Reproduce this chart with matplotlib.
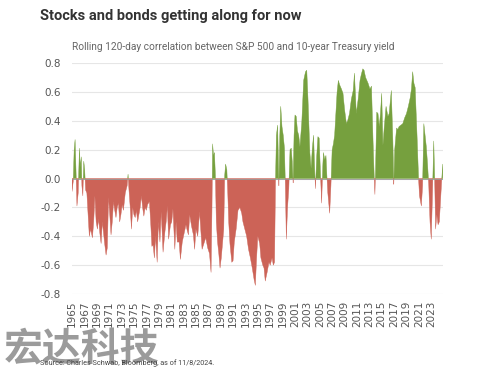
import numpy as np
import matplotlib.pyplot as plt

# rolling 120-day correlation (decimal year, value)
dates = [
    1965.0, 1965.2, 1965.35, 1965.5, 1965.65, 1965.8, 1966.0, 1966.2, 1966.35, 1966.5,
    1966.6, 1966.75, 1966.9, 1967.05, 1967.2, 1967.4, 1967.6, 1967.8, 1968.0, 1968.3,
    1968.5, 1968.7, 1968.9, 1969.1, 1969.3, 1969.5, 1969.7, 1969.9, 1970.1, 1970.3,
    1970.5, 1970.7, 1970.9, 1971.1, 1971.3, 1971.5, 1971.7, 1971.9, 1972.1, 1972.3,
    1972.5, 1972.7, 1972.9, 1973.1, 1973.3, 1973.6, 1973.9, 1974.05, 1974.2, 1974.4,
    1974.6, 1974.8, 1975.0, 1975.2, 1975.4, 1975.6, 1975.8, 1976.0, 1976.2, 1976.4,
    1976.6, 1976.8, 1977.0, 1977.2, 1977.5, 1977.7, 1977.9, 1978.1, 1978.3, 1978.5,
    1978.75, 1978.95, 1979.2, 1979.4, 1979.7, 1980.0, 1980.2, 1980.4, 1980.6, 1980.9,
    1981.1, 1981.3, 1981.6, 1981.8, 1982.0, 1982.3, 1982.5, 1982.8, 1983.1, 1983.4,
    1983.6, 1983.8, 1984.0, 1984.3, 1984.6, 1984.8, 1985.0, 1985.3, 1985.6, 1985.8,
    1986.0, 1986.3, 1986.6, 1986.9, 1987.2, 1987.45, 1987.6, 1987.7, 1987.85, 1988.0,
    1988.15, 1988.3, 1988.5, 1988.7, 1988.9, 1989.1, 1989.3, 1989.5, 1989.65, 1989.8,
    1990.0, 1990.15, 1990.3, 1990.5, 1990.8, 1991.0, 1991.2, 1991.5, 1991.8, 1992.1,
    1992.4, 1992.6, 1992.9, 1993.2, 1993.5, 1993.8, 1994.1, 1994.4, 1994.6, 1994.8,
    1995.0, 1995.3, 1995.5, 1995.8, 1996.0, 1996.2, 1996.5, 1996.8, 1997.0, 1997.3,
    1997.5, 1997.7, 1997.85, 1998.0, 1998.2, 1998.4, 1998.55, 1998.7, 1998.9, 1999.1,
    1999.3, 1999.45, 1999.6, 1999.8, 2000.0, 2000.2, 2000.4, 2000.55, 2000.7, 2000.85,
    2001.0, 2001.2, 2001.4, 2001.6, 2001.8, 2002.1, 2002.4, 2002.7, 2002.9, 2003.1,
    2003.4, 2003.6, 2003.8, 2004.0, 2004.15, 2004.3, 2004.5, 2004.7, 2004.9, 2005.1,
    2005.3, 2005.5, 2005.6, 2005.8, 2006.0, 2006.15, 2006.3, 2006.6, 2006.8, 2007.0,
    2007.2, 2007.4, 2007.6, 2007.8, 2008.0, 2008.2, 2008.5, 2008.75, 2009.0, 2009.3,
    2009.5, 2009.8, 2010.1, 2010.4, 2010.6, 2010.9, 2011.2, 2011.5, 2011.7, 2011.95,
    2012.15, 2012.4, 2012.6, 2012.8, 2013.1, 2013.35, 2013.6, 2013.8, 2013.9, 2014.0,
    2014.2, 2014.4, 2014.6, 2014.8, 2015.0, 2015.2, 2015.4, 2015.7, 2016.0, 2016.2,
    2016.55, 2016.8, 2016.95, 2017.1, 2017.4, 2017.6, 2017.8, 2018.1, 2018.4, 2018.7,
    2019.0, 2019.3, 2019.6, 2019.8, 2020.0, 2020.2, 2020.4, 2020.7, 2020.95, 2021.1,
    2021.4, 2021.6, 2021.8, 2022.0, 2022.2, 2022.4, 2022.6, 2022.8, 2023.0, 2023.2,
    2023.4, 2023.55, 2023.7, 2023.9, 2024.1, 2024.3, 2024.5, 2024.7, 2024.85,
]
corr = [
    -0.09, -0.02, 0.2, 0.27, 0.05, -0.19, -0.1, 0.21, 0.08, 0.15,
    -0.05, -0.12, 0.12, 0.06, -0.08, -0.1, -0.25, -0.4, -0.35, -0.41,
    -0.3, -0.12, -0.3, -0.35, -0.28, -0.38, -0.45, -0.3, -0.38, -0.46,
    -0.53, -0.48, -0.13, -0.25, -0.39, -0.3, -0.16, -0.22, -0.27, -0.2,
    -0.17, -0.3, -0.25, -0.18, -0.22, -0.1, -0.05, 0.03, -0.08, -0.2,
    -0.35, -0.2, -0.25, -0.27, -0.22, -0.3, -0.25, -0.2, -0.12, -0.2,
    -0.26, -0.2, -0.22, -0.18, -0.16, -0.3, -0.47, -0.46, -0.55, -0.4,
    -0.58, -0.3, -0.44, -0.23, -0.51, -0.37, -0.3, -0.19, -0.42, -0.32,
    -0.3, -0.21, -0.49, -0.3, -0.44, -0.44, -0.56, -0.44, -0.38, -0.32,
    -0.36, -0.39, -0.25, -0.33, -0.39, -0.49, -0.35, -0.4, -0.23, -0.36,
    -0.49, -0.45, -0.41, -0.48, -0.52, -0.65, -0.2, 0.24, 0.16, 0.18,
    0.02, -0.3, -0.44, -0.52, -0.62, -0.55, -0.45, -0.35, 0.02, 0.1,
    0.06, -0.1, -0.3, -0.45, -0.58, -0.57, -0.44, -0.35, -0.22, -0.2,
    -0.24, -0.3, -0.35, -0.4, -0.49, -0.55, -0.62, -0.7, -0.74, -0.55,
    -0.4, -0.45, -0.55, -0.6, -0.62, -0.71, -0.65, -0.58, -0.6, -0.55,
    -0.6, -0.58, -0.03, 0.3, 0.37, -0.05, 0.3, 0.5, 0.36, 0.3,
    0.21, -0.05, -0.42, -0.2, -0.07, 0.2, 0.21, 0.12, -0.03, 0.3,
    0.44, 0.43, 0.33, 0.3, 0.22, 0.39, 0.68, 0.74, 0.75, 0.55,
    0.18, 0.07, 0.21, 0.3, 0.1, -0.07, 0.15, 0.29, 0.28, 0.05,
    -0.17, 0.1, 0.18, 0.13, 0.16, 0.02, -0.1, -0.24, -0.05, 0.2,
    0.24, 0.3, 0.45, 0.6, 0.68, 0.65, 0.62, 0.59, 0.48, 0.38,
    0.4, 0.45, 0.55, 0.61, 0.73, 0.45, 0.55, 0.68, 0.72, 0.76,
    0.75, 0.7, 0.68, 0.66, 0.62, 0.64, 0.26, 0.0, -0.11, 0.05,
    0.46, 0.45, 0.36, 0.45, 0.59, 0.23, 0.35, 0.5, 0.43, 0.45,
    0.61, 0.26, -0.04, 0.2, 0.35, 0.34, 0.36, 0.37, 0.38, 0.42,
    0.45, 0.5, 0.56, 0.62, 0.74, 0.66, 0.63, 0.3, 0.0, -0.12,
    -0.19, -0.05, 0.38, 0.3, 0.22, 0.1, -0.05, -0.3, -0.42, -0.1,
    0.26, 0.0, -0.35, -0.25, -0.32, -0.3, -0.15, 0.0, 0.1,
]
year_ticks = list(range(1965, 2024, 2))
y_ticks = [0.8, 0.6, 0.4, 0.2, 0.0, -0.2, -0.4, -0.6, -0.8]

x = np.array(dates)
y = np.array(corr)

fig = plt.figure(figsize=(4.8, 3.71), dpi=100, facecolor='white')
ax = fig.add_axes([0.15, 0.2075, 0.773, 0.6225])

ax.fill_between(x, y, 0, where=y >= 0, interpolate=True, color='#76a03e', lw=0.3)
ax.fill_between(x, y, 0, where=y <= 0, interpolate=True, color='#cc6357', lw=0.3)
ax.axhline(0, color='#9a9a9a', lw=0.6, zorder=3)

ax.set_xlim(1965, 2024.9)
ax.set_ylim(-0.8, 0.8)
ax.set_yticks(y_ticks)
ax.set_yticklabels(['%.1f' % v for v in y_ticks])
ax.set_xticks(year_ticks)
ax.set_xticklabels([str(t) for t in year_ticks], rotation=90)
ax.tick_params(axis='both', length=0, labelsize=7.5, colors='#555555')
ax.tick_params(axis='y', pad=8)
ax.tick_params(axis='x', pad=5)
ax.grid(axis='y', color='#e6e6e6', lw=0.8)
ax.set_axisbelow(True)
for s in ax.spines.values():
    s.set_visible(False)

fig.text(40/480, 1 - 16/371, 'Stocks and bonds getting along for now', fontsize=10.5,
         fontweight='bold', color='#333333', va='center', family='Roboto')
fig.text(72/480, 1 - 47/371,
         'Rolling 120-day correlation between S&P 500 and 10-year Treasury yield',
         fontsize=7.3, color='#666666', va='center', family='Roboto')
fig.text(4/480, 1 - 350/371, '宏达科技', fontsize=28, fontweight='bold',
         color='#909090', alpha=0.9, va='center', family=['Noto Sans CJK SC', 'DejaVu Sans'])
fig.text(40/480, 1 - 363/371, 'Source: Charles Schwab, Bloomberg, as of 11/8/2024.',
         fontsize=5.2, color='#444444', va='center', family='Roboto')

fig.savefig('out.png', dpi=100)
